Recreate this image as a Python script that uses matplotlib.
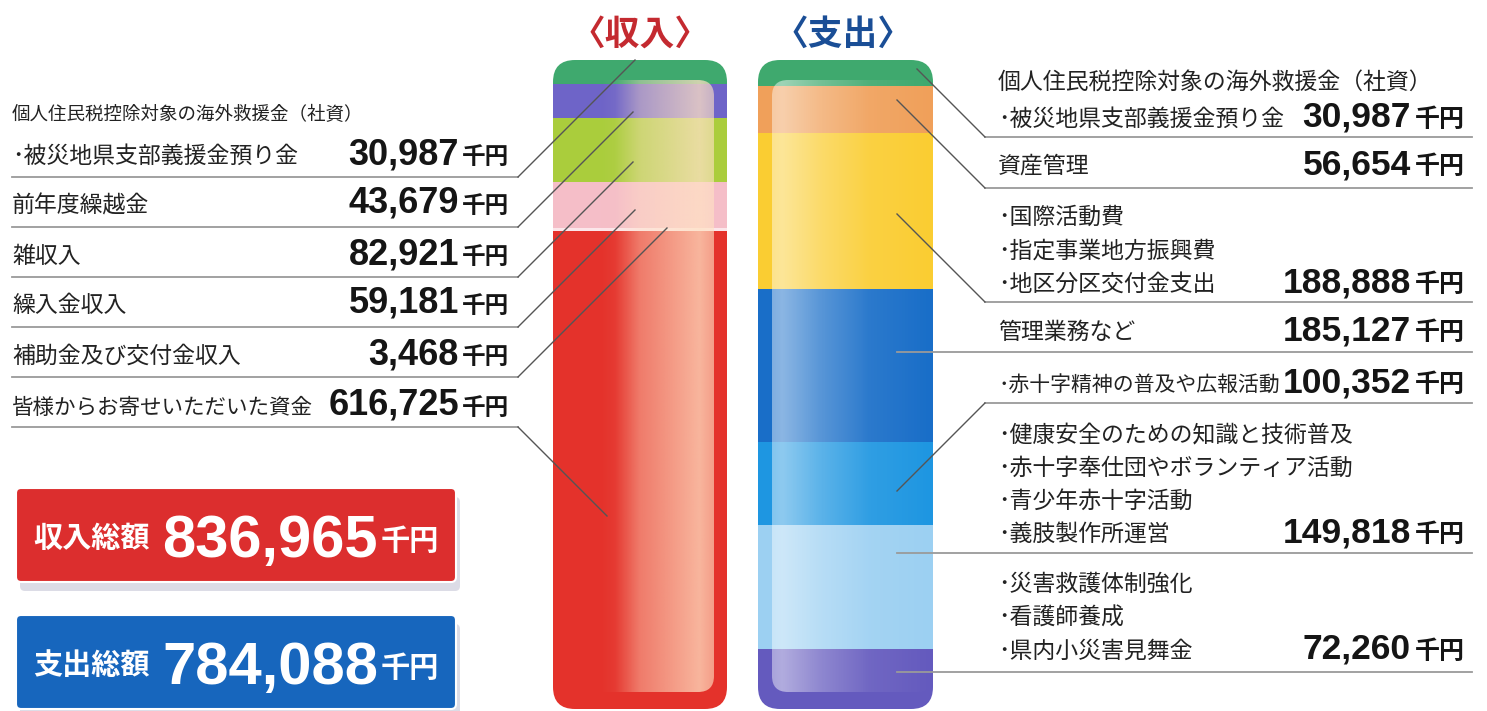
import numpy as np
import matplotlib
matplotlib.use("Agg")
import matplotlib.pyplot as plt
from matplotlib.patches import FancyBboxPatch

plt.rcParams['font.family'] = ['Noto Sans CJK JP', 'DejaVu Sans']

# --- data (千円) ---
income_labels = ["個人住民税控除対象の海外救援金（社資）\n･被災地県支部義援金預り金",
                 "前年度繰越金", "雑収入", "繰入金収入",
                 "補助金及び交付金収入", "皆様からお寄せいただいた資金"]
income_values = [30987, 43679, 82921, 59181, 3468, 616725]
income_colors = ["#3fa96e", "#6e64c8", "#aacd3c", "#f5bec8", "#fbe6ea", "#e4322b"]

expense_labels = ["個人住民税控除対象の海外救援金（社資）\n･被災地県支部義援金預り金",
                  "資産管理",
                  "･国際活動費\n･指定事業地方振興費\n･地区分区交付金支出",
                  "管理業務など",
                  "･赤十字精神の普及や広報活動",
                  "･健康安全のための知識と技術普及\n･赤十字奉仕団やボランティア活動\n･青少年赤十字活動\n･義肢製作所運営",
                  "･災害救護体制強化\n･看護師養成\n･県内小災害見舞金"]
expense_values = [30987, 56654, 188888, 185127, 100352, 149818, 72260]
expense_colors = ["#3fa96e", "#f0a05a", "#facd32", "#196ec8", "#1e96e1", "#9cd0f2", "#645abe"]

income_total = 836965
expense_total = 784088

NUMF = 'Liberation Sans'

fig = plt.figure(figsize=(14.87, 7.11), dpi=100)
ax = fig.add_axes([0, 0, 1, 1])
ax.set_xlim(0, 1487)
ax.set_ylim(711, 0)
ax.axis('off')

bar_top, bar_bot = 60, 709


def draw_bar(x0, w, values, colors, inner, alpha_pts, tint):
    clip = FancyBboxPatch((x0, bar_top), w, bar_bot - bar_top,
                          boxstyle="round,pad=0,rounding_size=22",
                          fc='none', ec='none')
    ax.add_patch(clip)
    vals = np.array(values, dtype=float)
    scale = (bar_bot - bar_top) / vals.sum()
    bottoms = bar_top + np.concatenate([[0], np.cumsum(vals)[:-1]]) * scale
    bars = ax.bar(x0 + w / 2, vals * scale, bottom=bottoms, width=w,
                  color=colors, edgecolor='none', zorder=2)
    for p in bars:
        p.set_clip_path(clip)
    # glossy highlight
    ix0, iy0, iw, ih = inner
    gp = FancyBboxPatch((ix0, iy0), iw, ih, boxstyle="round,pad=0,rounding_size=16",
                        fc='none', ec='none')
    ax.add_patch(gp)
    xs = np.linspace(ix0, ix0 + iw, 200)
    a = np.interp(xs, alpha_pts[0], alpha_pts[1])
    img = np.ones((2, len(xs), 4))
    img[:, :, :3] = matplotlib.colors.to_rgb(tint)
    img[:, :, 3] = a
    im = ax.imshow(img, extent=(ix0, ix0 + iw, iy0 + ih, iy0), aspect='auto',
                   zorder=3, interpolation='bilinear')
    im.set_clip_path(gp)


draw_bar(553, 174, income_values, income_colors, (553, 80, 161, 612),
         ([553, 600, 615, 640, 700, 714], [0.0, 0.0, 0.05, 0.42, 0.75, 0.62]), '#ffe2c4')
draw_bar(758, 175, expense_values, expense_colors, (772, 80, 161, 612),
         ([772, 782, 820, 870, 933], [0.45, 0.5, 0.28, 0.08, 0.0]), '#ffffff')
ax.set_xlim(0, 1487)
ax.set_ylim(711, 0)

# titles
ax.text(640, 34, "〈収入〉", ha='center', va='center', fontsize=25,
        fontweight='bold', color='#c42a30')
ax.text(843, 34, "〈支出〉", ha='center', va='center', fontsize=25,
        fontweight='bold', color='#1a4e96')

lc = '#9a9a9a'
leader = '#555555'

# left side (income)
left_base = [164, 213, 264, 313, 364, 415]
left_under = [177, 227, 277, 327, 377, 427]
left_tip = [635, 633, 633, 635, 667, 607]
left_fs = [16.5, 16.5, 16.5, 16.5, 16.5, 15.5]
for lab, v, yb, yu, tx, fs in zip(income_labels, income_values, left_base,
                                  left_under, left_tip, left_fs):
    lines = lab.split("\n")
    if len(lines) > 1:
        ax.text(12, yb - 44, lines[0], fontsize=13.3, va='baseline', color='#222')
    ax.text(12, yb - 1, lines[-1], fontsize=fs, va='baseline', color='#222')
    ax.text(459, yb, f"{v:,}", fontsize=26, fontweight='bold', family=NUMF,
            ha='right', va='baseline', color='#151515')
    ax.text(462, yb, "千円", fontsize=17, fontweight='bold', ha='left',
            va='baseline', color='#151515')
    ax.plot([12, 518], [yu, yu], color=lc, lw=1.3, zorder=4)
    dy = -(tx - 518) if tx > 620 else (tx - 518)
    ax.plot([518, tx], [yu, yu + dy], color=leader, lw=1.0, zorder=4)

# right side (expense)
right_base = [127, 174, 292, 340, 392, 542, 659]
right_under = [137, 188, 302, 352, 403, 553, 672]
right_gap = [37, 33.5, 33.5, 33.5, 33.5, 33, 33.5]
right_fs = [16.5, 16.5, 16.5, 16.5, 15, 16.5, 16.5]
right_tip = [(917, -1), (897, -1), (897, -1), (897, 0), (897, 1), (897, 0), (897, 0)]
for lab, v, yb, yu, g, fs, (tx, s) in zip(expense_labels, expense_values, right_base,
                                         right_under, right_gap, right_fs, right_tip):
    lines = lab.split("\n")
    for k, ln in enumerate(lines):
        ax.text(998, yb - 1 - (len(lines) - 1 - k) * g, ln, fontsize=fs,
                va='baseline', color='#222')
    ax.text(1411, yb, f"{v:,}", fontsize=25.5, fontweight='bold', family=NUMF,
            ha='right', va='baseline', color='#151515')
    ax.text(1415, yb, "千円", fontsize=18, fontweight='bold', ha='left',
            va='baseline', color='#151515')
    if s == 0:
        ax.plot([tx, 1472], [yu, yu], color=lc, lw=1.3, zorder=4)
    else:
        ax.plot([985, 1472], [yu, yu], color=lc, lw=1.3, zorder=4)
        ax.plot([985, tx], [yu, yu + s * (985 - tx)], color=leader, lw=1.0, zorder=4)

# total boxes
for y0, col, name, tot in [(488, '#dc2e2e', "収入総額", income_total),
                           (615, '#1766bd', "支出総額", expense_total)]:
    ax.add_patch(FancyBboxPatch((20, y0 + 9), 440, 94, boxstyle="round,pad=0,rounding_size=5",
                                fc='#dcdce6', ec='none', zorder=1))
    ax.add_patch(FancyBboxPatch((16, y0), 440, 94, boxstyle="round,pad=0,rounding_size=5",
                                fc=col, ec='white', lw=1.5, zorder=2))
    ax.text(33, y0 + 59, name, fontsize=21, fontweight='bold', color='white',
            va='baseline', zorder=3)
    ax.text(378, y0 + 69, f"{tot:,}", fontsize=43, fontweight='bold', family=NUMF,
            color='white', ha='right', va='baseline', zorder=3)
    ax.text(381, y0 + 62, "千円", fontsize=21, fontweight='bold', color='white',
            ha='left', va='baseline', zorder=3)

fig.savefig("out.png", dpi=100)
